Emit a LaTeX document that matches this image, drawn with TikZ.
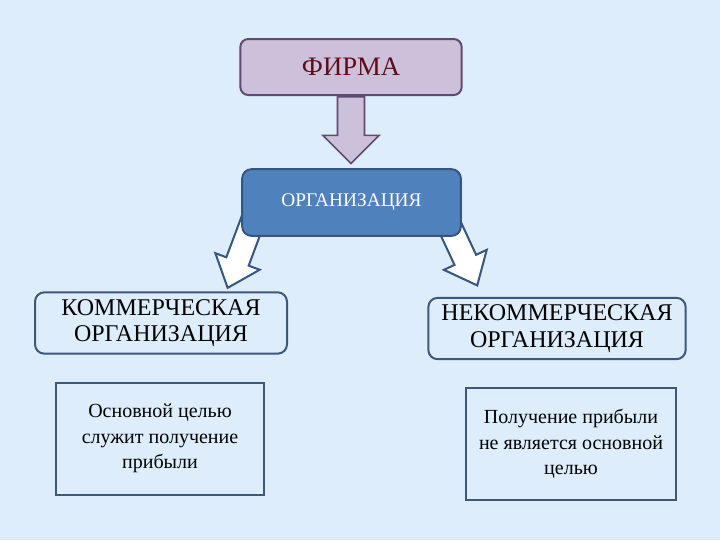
\documentclass[tikz,border=0pt]{standalone}
\usepackage{fontspec}
\setmainfont{Liberation Serif}
\usetikzlibrary{shapes.arrows,calc}
\definecolor{fon}{RGB}{222,237,251}
\definecolor{firmafill}{RGB}{205,192,218}
\definecolor{firmaline}{RGB}{95,75,112}
\definecolor{firmatext}{RGB}{96,12,24}
\definecolor{orgfill}{RGB}{79,129,189}
\definecolor{orgline}{RGB}{52,86,128}
\definecolor{boxline}{RGB}{62,88,122}
\tikzset{
	topbox/.style={draw=firmaline, fill=firmafill, line width=1.5pt, rounded corners=6pt, minimum width=166pt, minimum height=42pt, text=firmatext, font=\fontsize{20}{24}\selectfont},
	orgbox/.style={draw=orgline, fill=orgfill, line width=1.5pt, rounded corners=7pt, minimum width=164pt, minimum height=50pt, text=white, font=\fontsize{14.5}{17}\selectfont},
	kindbox/.style={draw=boxline, fill=fon, line width=1.5pt, rounded corners=7pt, minimum height=46pt, align=center, font=\fontsize{18}{20}\selectfont},
	notebox/.style={draw=boxline, fill=fon, line width=1.5pt, minimum height=84pt, align=center, font=\fontsize{15}{19}\selectfont},
	bigarrow/.style={single arrow, draw=firmaline, fill=firmafill, line width=1.2pt, anchor=tail, inner xsep=0pt, inner ysep=9.5pt, single arrow head extend=11pt, minimum height=50pt},
	sidearrow/.style={single arrow, draw=orgline, fill=white, line width=1.5pt, anchor=tail, inner xsep=0pt, inner ysep=8.2pt, single arrow head extend=8.8pt, minimum height=60pt, single arrow tip angle=80}
}
\begin{document}
\begin{tikzpicture}[x=0.75pt, y=-0.75pt]
	\fill[fon] (0,0) rectangle (720,540);
	\useasboundingbox (0,0) rectangle (720,540);

	\node[topbox] (firma) at (351,67) {ФИРМА};
	\coordinate (lstart) at (256,212);
	\coordinate (rstart) at (443,212);
	\node[sidearrow, rotate=-110.5] (larrow) at (lstart) {};
	\node[sidearrow, rotate=-65] (rarrow) at (rstart) {};
	\node[bigarrow, rotate=-90] (darrow) at (firma.south) {};
	\node[orgbox] (org) at (351.5,202.5) {ОРГАНИЗАЦИЯ};

	\node[kindbox, minimum width=189pt] (kom) at (161,323) {КОММЕРЧЕСКАЯ\\ОРГАНИЗАЦИЯ};
	\node[kindbox, minimum width=193pt] (nekom) at (557,328.5) {НЕКОММЕРЧЕСКАЯ\\ОРГАНИЗАЦИЯ};

	\node[notebox, minimum width=156pt] (kommeta) at (160,438.5) {Основной целью\\служит получение\\прибыли};
	\node[notebox, minimum width=157pt] (nekommeta) at (571,444) {Получение прибыли\\не является основной\\целью};
\end{tikzpicture}
\end{document}
